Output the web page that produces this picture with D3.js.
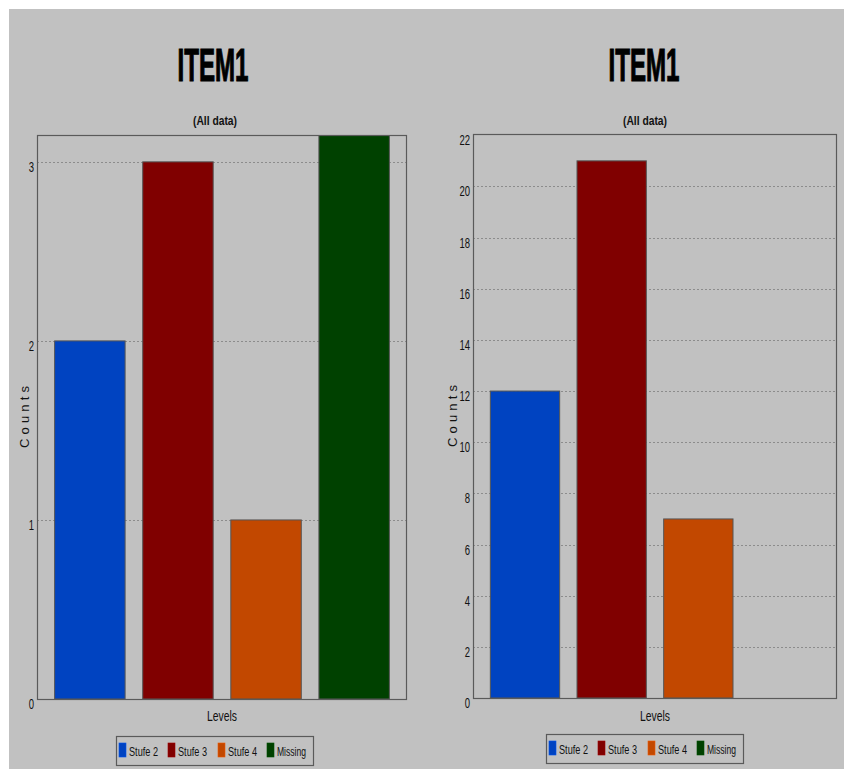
<!DOCTYPE html>
<html>
<head>
<meta charset="utf-8">
<script src="https://cdn.jsdelivr.net/npm/d3@7"></script>
<style>
  html, body { margin: 0; padding: 0; background: #ffffff; }
  svg { display: block; }
  text { font-family: "Liberation Sans Narrow", "Liberation Sans", Arial, sans-serif; fill: #111; }
</style>
</head>
<body>
<svg id="chart" width="844" height="769"></svg>
<script>
// ---- data ----
const categories = ["Stufe 2", "Stufe 3", "Stufe 4", "Missing"];
const colors = ["#0043c1", "#800000", "#c24800", "#004100"];
const leftValues = [2, 3, 1, 4];      // Missing bar exceeds the axis range and is clipped
const rightValues = [12, 21, 7, 0];
const leftTicks = [0, 1, 2, 3];
const rightTicks = [0, 2, 4, 6, 8, 10, 12, 14, 16, 18, 20, 22];
const leftMax = 3.15;
const rightMax = 22.05;
const titleText = "ITEM1";
const subtitleText = "(All data)";
const xLabel = "Levels";
const yLabel = "Counts";

const svg = d3.select("#chart");
svg.append("rect").attr("x", 9).attr("y", 9).attr("width", 835).attr("height", 760).attr("fill", "#c1c1c1");

const defs = svg.append("defs");
const squeeze = 0.68;

function drawPanel(cfg) {
  const g = svg.append("g");
  const x = d3.scaleBand().domain(categories).range([cfg.x0, cfg.x1]).paddingInner(0.2).paddingOuter(0.2);
  const y = d3.scaleLinear().domain([0, cfg.max]).range([cfg.y1, cfg.y0]);

  // title & subtitle
  g.append("text").attr("x", cfg.titleX).attr("y", 81).attr("text-anchor", "middle")
    .attr("font-size", 47).attr("font-weight", "bold")
    .style("fill", "#000").attr("stroke", "#000").attr("stroke-width", 1.2)
    .attr("textLength", 71).attr("lengthAdjust", "spacingAndGlyphs").text(titleText);
  g.append("text").attr("x", cfg.subX).attr("y", 125).attr("text-anchor", "middle")
    .attr("font-size", 12.5).attr("font-weight", "bold")
    .attr("textLength", 44).attr("lengthAdjust", "spacingAndGlyphs").text(subtitleText);

  // gridlines
  g.selectAll(".grid").data(cfg.ticks.filter(t => t > 0 && y(t) > cfg.y0 + 2)).enter().append("line")
    .attr("x1", cfg.x0).attr("x2", cfg.x1)
    .attr("y1", d => Math.round(y(d)) + 0.5).attr("y2", d => Math.round(y(d)) + 0.5)
    .attr("stroke", "#8c8c8c").attr("stroke-width", 1).attr("stroke-dasharray", "2,2");

  // clip
  const clipId = "clip" + cfg.id;
  defs.append("clipPath").attr("id", clipId).append("rect")
    .attr("x", cfg.x0).attr("y", cfg.y0).attr("width", cfg.x1 - cfg.x0).attr("height", cfg.y1 - cfg.y0);

  const data = categories.map((c, i) => ({ c, v: cfg.values[i], col: colors[i] })).filter(d => d.v > 0);
  g.append("g").attr("clip-path", `url(#${clipId})`).selectAll("rect").data(data).enter().append("rect")
    .attr("x", d => x(d.c)).attr("width", x.bandwidth())
    .attr("y", d => y(d.v)).attr("height", d => y(0) - y(d.v))
    .attr("fill", d => d.col).attr("stroke", "#555").attr("stroke-width", 1);

  // plot border
  g.append("rect").attr("x", cfg.x0 + 0.5).attr("y", cfg.y0 + 0.5)
    .attr("width", cfg.x1 - cfg.x0 - 1).attr("height", cfg.y1 - cfg.y0)
    .attr("fill", "none").attr("stroke", "#5a5a5a").attr("stroke-width", 1.2);

  // y tick labels via axis
  const axis = d3.axisLeft(y).tickValues(cfg.ticks).tickSize(0).tickPadding(3).tickFormat(d3.format("d"));
  const ag = g.append("g").attr("transform", `translate(${cfg.x0},0)`).call(axis);
  ag.select(".domain").remove();
  ag.selectAll("text").attr("font-size", 14).attr("dy", "0.68em").attr("fill", "#111")
    .attr("x", -3 / squeeze).attr("transform", `scale(${squeeze},1)`)
    .attr("font-family", '"Liberation Sans", Arial, sans-serif');

  // axis labels
  g.append("text").attr("x", (cfg.x0 + cfg.x1) / 2).attr("y", 721).attr("text-anchor", "middle")
    .attr("font-size", 14.5).attr("textLength", 30).attr("lengthAdjust", "spacingAndGlyphs").text(xLabel);
  const cy = (cfg.y0 + cfg.y1) / 2;
  g.append("text").attr("transform", `translate(${cfg.yLabelX},${cy}) rotate(-90)`)
    .attr("text-anchor", "middle").attr("font-size", 13)
    .attr("font-family", '"Liberation Sans", Arial, sans-serif')
    .attr("textLength", 62).attr("lengthAdjust", "spacing").text(yLabel);

  // legend
  const lg = g.append("g").attr("transform", `translate(${cfg.legX},${cfg.legY})`);
  lg.append("rect").attr("x", 0.5).attr("y", 0.5).attr("width", 197).attr("height", 29)
    .attr("fill", "#c1c1c1").attr("stroke", "#5a5a5a").attr("stroke-width", 1.2);
  const swX = [3, 52, 102, 151];
  const txW = [29, 29, 29, 29];
  categories.forEach((c, i) => {
    lg.append("rect").attr("x", swX[i]).attr("y", 7).attr("width", 7).attr("height", 14)
      .attr("fill", colors[i]).attr("stroke", d3.color(colors[i]).brighter(0.6)).attr("stroke-width", 0.6);
    lg.append("text").attr("x", swX[i] + 10).attr("y", 20).attr("font-size", 13)
      .attr("textLength", txW[i]).attr("lengthAdjust", "spacingAndGlyphs").text(c);
  });
}

drawPanel({ id: "L", x0: 37, x1: 407, y0: 135, y1: 699, max: leftMax, ticks: leftTicks, values: leftValues,
  titleX: 213, subX: 215, yLabelX: 29, legX: 116, legY: 736 });
drawPanel({ id: "R", x0: 473, x1: 837, y0: 134, y1: 698, max: rightMax, ticks: rightTicks, values: rightValues,
  titleX: 644, subX: 645, yLabelX: 457, legX: 546, legY: 734 });
</script>
</body>
</html>
